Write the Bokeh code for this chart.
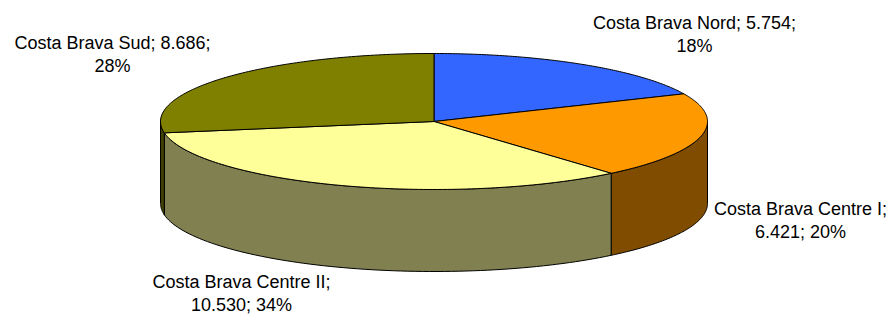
import numpy as np
from bokeh.plotting import figure
from bokeh.models import Range1d, ColumnDataSource
from bokeh.embed import file_html
from bokeh.resources import INLINE
from bokeh.core.properties import value

# ---- data ----
names = ["Costa Brava Nord", "Costa Brava Centre I", "Costa Brava Centre II", "Costa Brava Sud"]
values = [5754, 6421, 10530, 8686]
top_colors = ["#3366FF", "#FF9900", "#FFFF99", "#808000"]
side_colors = ["#1A3380", "#7F4C00", "#808050", "#404000"]
# label line break: after value ("v") or after name ("n")
label_break = ["v", "n", "n", "v"]

# ---- layout ----
W, H = 894, 316
cx, cy, a, b, depth = 433.5, 121.0, 273.5, 68.0, 82.0
label_x = [694, 800, 241, 112]
label_y = [22, 208, 281, 42]
line_h = 23
font = "Liberation Sans"
fsize = "18px"

total = float(sum(values))
fr = np.array(values) / total
cum = np.concatenate([[0.0], np.cumsum(fr)]) * 360.0


def pt(theta_deg, dy=0.0):
    t = np.radians(theta_deg)
    return cx + a * np.sin(t), cy - b * np.cos(t) + dy


p = figure(width=W, height=H, x_range=Range1d(0, W), y_range=Range1d(H, 0),
           output_backend="svg", toolbar_location=None, min_border=0)
p.axis.visible = False
p.grid.visible = False
p.outline_line_color = None
p.background_fill_color = "white"
p.border_fill_color = "white"

# side walls (visible front half: 90..270 deg clockwise from top)
wx, wy, wc = [], [], []
for i in range(len(values)):
    c0, c1 = max(cum[i], 90.0), min(cum[i + 1], 270.0)
    if c1 <= c0:
        continue
    th = np.linspace(c0, c1, 80)
    x1, y1 = pt(th)
    x2, y2 = pt(th[::-1], depth)
    wx.append(list(np.concatenate([x1, x2])))
    wy.append(list(np.concatenate([y1, y2])))
    wc.append(side_colors[i])
p.patches(wx, wy, fill_color=wc, line_color="black", line_width=1, line_join="round")

# top slices
tx, ty = [], []
for i in range(len(values)):
    th = np.linspace(cum[i], cum[i + 1], 120)
    x1, y1 = pt(th)
    tx.append([cx] + list(x1))
    ty.append([cy] + list(y1))
p.patches(tx, ty, fill_color=top_colors, line_color="black", line_width=1, line_join="round")

# labels
l1, l2 = [], []
for n, v, f, br in zip(names, values, fr, label_break):
    vs = f"{v:,}".replace(",", ".")
    ps = f"{round(f * 100):.0f}%"
    if br == "v":
        l1.append(f"{n}; {vs};")
        l2.append(ps)
    else:
        l1.append(f"{n};")
        l2.append(f"{vs}; {ps}")
src = ColumnDataSource(dict(x=label_x, y1=label_y, y2=[y + line_h for y in label_y], l1=l1, l2=l2))
for yk, tk in (("y1", "l1"), ("y2", "l2")):
    p.text(x="x", y=yk, text=tk, source=src, text_font=value(font), text_font_size=fsize,
           text_align="center", text_baseline="alphabetic", text_color="black")

open("out.html", "w").write(file_html(p, INLINE))
